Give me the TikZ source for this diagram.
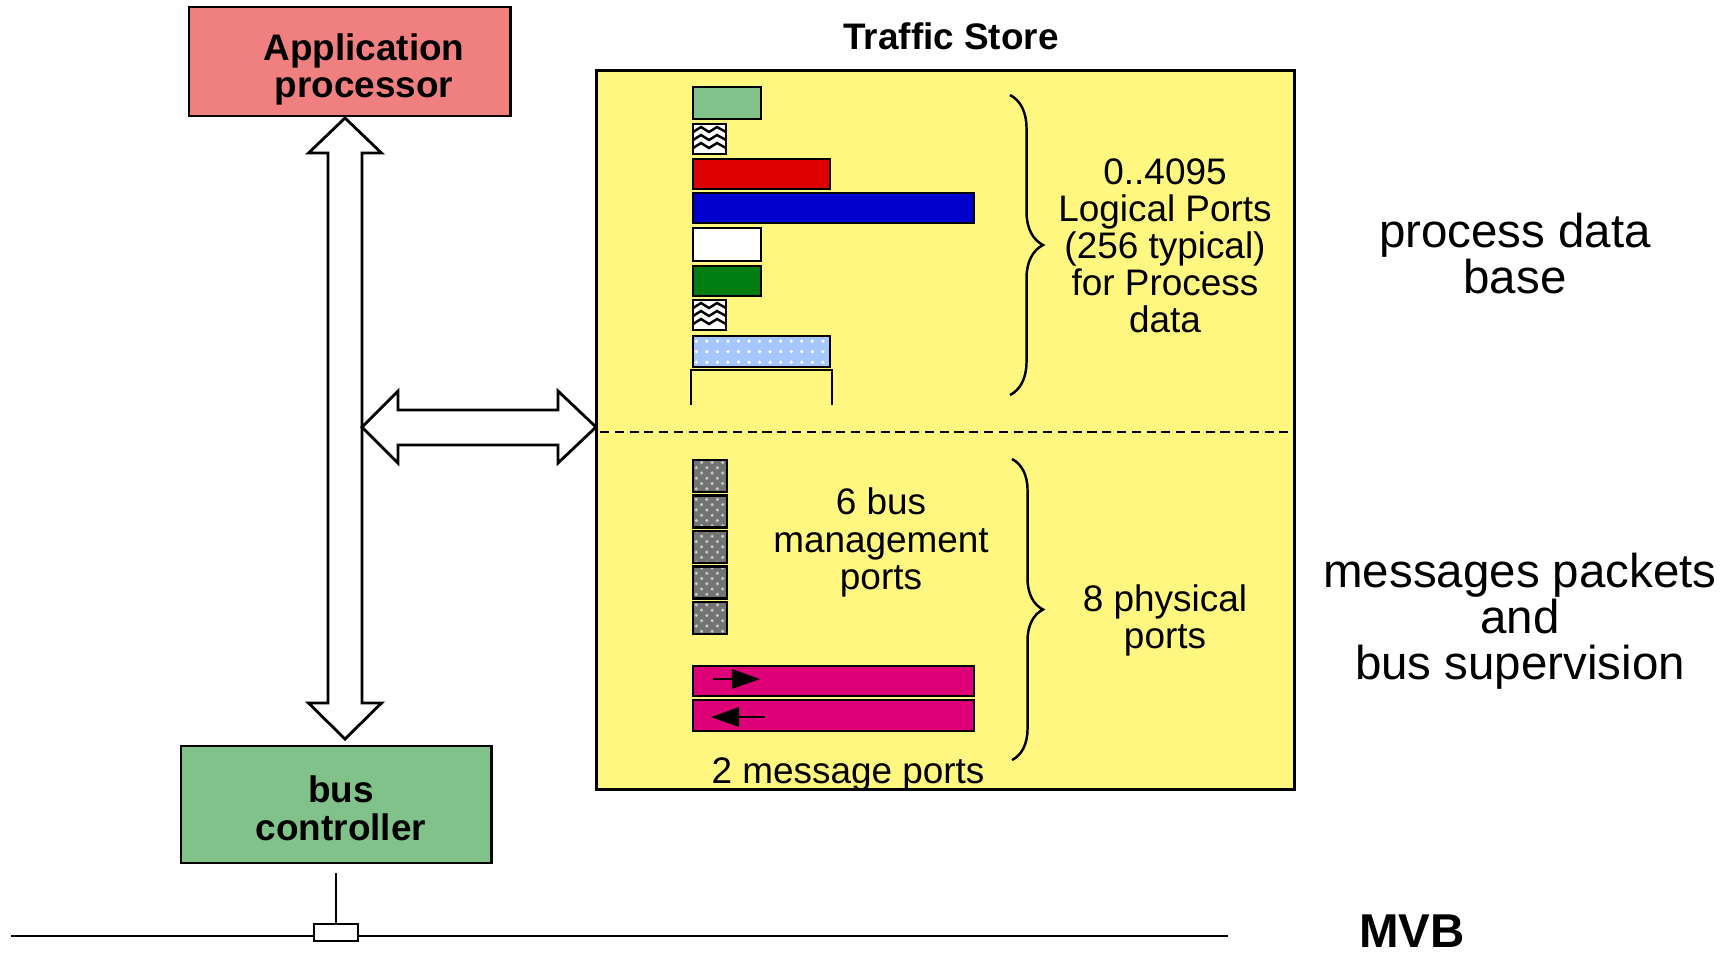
\documentclass[tikz,border=0pt]{standalone}
\usepackage{fontspec}
\setmainfont{Liberation Sans}
\usetikzlibrary{
  arrows.meta,
  decorations.pathreplacing,
  patterns
}
\definecolor{appred}{RGB}{240,128,128}
\definecolor{ctrlgreen}{RGB}{128,194,138}
\definecolor{storeyellow}{RGB}{255,247,128}
\definecolor{portred}{RGB}{221,0,0}
\definecolor{portblue}{RGB}{0,0,204}
\definecolor{portgreen}{RGB}{0,125,16}
\definecolor{portsky}{RGB}{166,198,255}
\definecolor{msgpink}{RGB}{221,0,119}

\begin{document}
\begin{tikzpicture}[
  x=0.01cm, y=-0.01cm,
  every node/.style={font=\fontsize{10.5}{10.55}\selectfont},
  boldtext/.style={font=\fontsize{10.5}{10.7}\selectfont\bfseries, align=center},
  bigtext/.style={font=\fontsize{13.5}{13}\selectfont, align=center},
  box/.style={draw, line width=0.8pt},
  port/.style={draw, line width=0.8pt},
  hollow/.style={draw, line width=0.8pt, fill=white, line join=miter},
  >={Triangle[length=8pt, width=5.5pt]}
]
\useasboundingbox (0,0) rectangle (1734,953);

% Application processor and bus controller
\node[box, fill=appred, minimum width=3.21cm, minimum height=1.09cm]
  (app) at (349.5,61.5) {};
\node[boldtext] (apptext) at (364,69.5) {Application\\processor};
\node[box, fill=ctrlgreen, minimum width=3.10cm, minimum height=1.17cm]
  (ctrl) at (336,804.5) {};
\node[boldtext] (ctrltext) at (341,808) {bus\\controller};

% Traffic store
\node[box, fill=storeyellow, minimum width=6.97cm, minimum height=7.18cm]
  (store) at (945.5,430) {};
\node[boldtext] (storetitle) at (951,36) {Traffic Store};
\draw[dash pattern=on 2.6pt off 1.6pt, line width=0.8pt] (600,432) -- (1288,432);

% Process data ports
\draw[port, fill=ctrlgreen] (693,87) rectangle (761,119);
\draw[port, fill=portred] (693,159) rectangle (830,189);
\draw[port, fill=portblue] (693,193) rectangle (974,223);
\draw[port, fill=white] (693,228) rectangle (761,261);
\draw[port, fill=portgreen] (693,266) rectangle (761,296);
\foreach \yy in {124,300} {
  \begin{scope}
    \clip (693,\yy) rectangle (726,\yy+30);
    \fill[white] (693,\yy) rectangle (726,\yy+30);
    \foreach \k in {8,16,24}
      \draw[line width=0.7pt] (693,\yy+\k) -- ++(8,-5) -- ++(8,5) -- ++(8,-5) -- ++(9,5);
  \end{scope}
  \draw[port] (693,\yy) rectangle (726,\yy+30);
}
\fill[portsky] (693,336) rectangle (830,367);
\fill[pattern=dots, pattern color=white] (693,336) rectangle (830,367);
\draw[port] (693,336) rectangle (830,367);
\draw[line width=0.8pt] (691,405) -- (691,370) -- (832,370) -- (832,405);

% Message ports
\foreach \i in {0,...,4} {
  \fill[black!55] (693,460+35.5*\i) rectangle (727,492+35.5*\i);
  \fill[pattern=crosshatch dots, pattern color=gray!45] (693,460+35.5*\i) rectangle (727,492+35.5*\i);
  \draw[port] (693,460+35.5*\i) rectangle (727,492+35.5*\i);
}
\draw[port, fill=msgpink] (693,666) rectangle (974,696);
\draw[port, fill=msgpink] (693,700) rectangle (974,731);
\draw[->, line width=0.7pt] (713,679) -- (760,679);
\draw[->, line width=0.7pt] (765,717) -- (711,717);

% Braces and labels
\draw[decorate, decoration={brace, amplitude=0.33cm}, line width=0.7pt]
  (1010,95) -- (1010,395);
\draw[decorate, decoration={brace, amplitude=0.31cm}, line width=0.7pt]
  (1012,459) -- (1012,760);
\node[align=center] (lplabel) at (1165,245.5)
  {0..4095\\Logical Ports\\(256 typical)\\for Process\\data};
\node[align=center] (bmlabel) at (881,542.5) {6 bus\\management\\ports};
\node[align=center] (pplabel) at (1165,620.5) {8 physical\\ports};
\node (mplabel) at (848,774.5) {2 message ports};

\node[bigtext] (pdbase) at (1515,253.5) {process data\\base};
\node[bigtext] (msgsup) at (1520,621) {messages packets\\and\\bus supervision};

% Hollow double arrows
\draw[hollow] (345,118) -- (381.5,153) -- (362,153) -- (362,703) -- (381.5,703)
  -- (345,739) -- (308.5,703) -- (328,703) -- (328,153) -- (308.5,153) -- cycle;
\draw[hollow] (362,427) -- (398,391) -- (398,410) -- (558,410) -- (558,391)
  -- (596,427) -- (558,463) -- (558,445) -- (398,445) -- (398,463) -- cycle;

% MVB
\draw[line width=0.8pt] (11,936) -- (1228,936);
\node[draw, fill=white, line width=0.8pt, inner sep=0pt,
  minimum width=0.44cm, minimum height=0.17cm] (tap) at (336,932.5) {};
\draw[line width=0.8pt] (tap.north) -- ++(0,-50);
\node[font=\fontsize{13.5}{13}\selectfont\bfseries, inner sep=1pt] (mvb) at (1412,931) {MVB};

\end{tikzpicture}
\end{document}
